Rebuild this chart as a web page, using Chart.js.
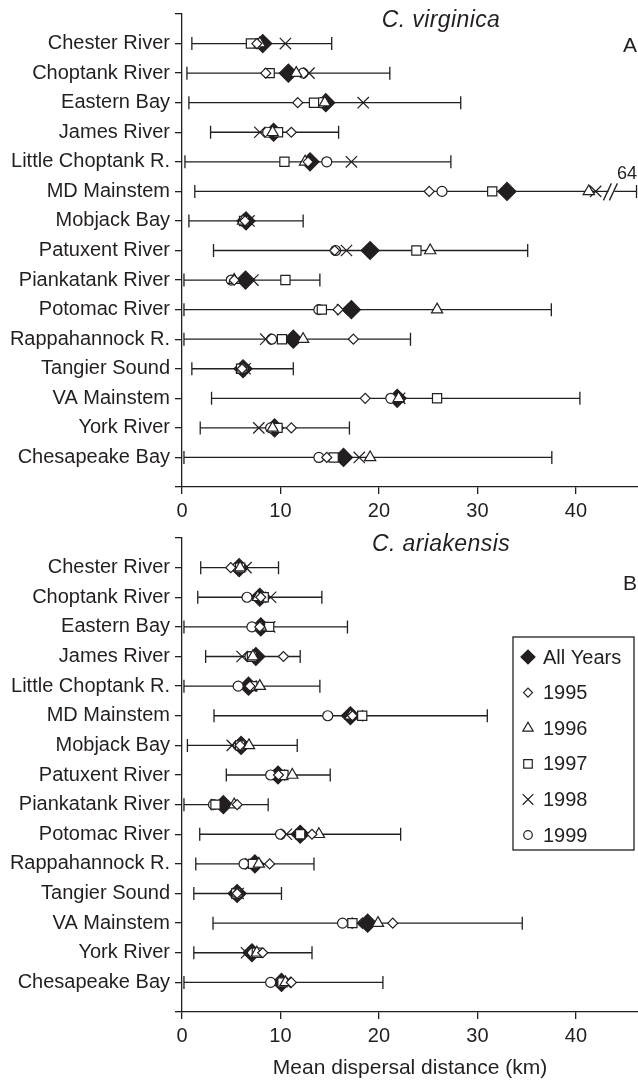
<!DOCTYPE html>
<html>
<head>
<meta charset="utf-8">
<script src="https://cdn.jsdelivr.net/npm/chart.js@4.4.1/dist/chart.umd.min.js"></script>
<style>
  html, body { margin: 0; padding: 0; background: #fff; }
  #wrap { position: relative; width: 638px; height: 1086px; }
  canvas { position: absolute; left: 0; }
</style>
</head>
<body>
<div id="wrap">
  <canvas id="chartA" width="638" height="530" style="top:0px"></canvas>
  <canvas id="chartB" width="638" height="556" style="top:530px"></canvas>
</div>
<script>
const sites = ['Chester River', 'Choptank River', 'Eastern Bay', 'James River', 'Little Choptank R.',
  'MD Mainstem', 'Mobjack Bay', 'Patuxent River', 'Piankatank River', 'Potomac River',
  'Rappahannock R.', 'Tangier Sound', 'VA Mainstem', 'York River', 'Chesapeake Bay'];
const xTicks = [0, 10, 20, 30, 40];
const seriesNames = ['All Years', '1995', '1996', '1997', '1998', '1999'];

// C. virginica (panel A)
const virAll  = [8.2, 10.8, 14.6, 9.3, 13.0, 33.0, 6.5, 19.1, 6.45, 17.2, 11.3, 6.2, 21.85, 9.4, 16.4];
const vir1995 = [7.6, 8.5, 11.75, 11.1, 12.8, 25.1, 6.4, 15.5, 5.3, 15.85, 17.4, 6.1, 18.6, 11.1, 14.7];
const vir1996 = [7.9, 11.6, 14.5, 9.2, 12.5, 41.3, 6.2, 25.2, 5.3, 25.9, 12.3, 6.1, 22.0, 9.2, 19.1];
const vir1997 = [7.0, 8.9, 13.4, 9.75, 10.4, 31.5, 6.3, 23.8, 10.5, 14.2, 10.15, 6.0, 25.9, 9.7, 15.4];
const vir1998 = [10.5, 12.9, 18.4, 7.9, 17.2, 42.0, 6.8, 16.7, 7.2, 16.3, 8.5, 6.4, 22.1, 7.8, 18.0];
const vir1999 = [7.7, 12.3, 14.1, 8.7, 14.7, 26.4, 6.3, 15.6, 5.0, 13.9, 9.1, 6.2, 21.2, 9.0, 13.9];
const virLow  = [1.0, 0.5, 0.7, 2.9, 0.3, 1.3, 0.7, 3.2, 0.2, 0.2, 0.2, 1.0, 3.0, 1.85, 0.2];
const virHigh = [15.2, 21.1, 28.3, 15.9, 27.3, 64, 12.3, 35.1, 14.0, 37.5, 23.2, 11.3, 40.4, 17.0, 37.55];

// C. ariakensis (panel B)
const ariAll  = [5.8, 7.9, 8.0, 7.5, 6.75, 17.1, 6.0, 9.75, 4.2, 12.0, 7.4, 5.6, 18.85, 7.1, 10.1];
const ari1995 = [4.95, 8.0, 7.9, 10.3, 6.9, 17.3, 5.9, 9.8, 5.6, 13.2, 8.9, 5.6, 21.4, 8.2, 11.1];
const ari1996 = [5.9, 7.7, 8.0, 7.2, 7.9, 17.1, 6.8, 11.2, 5.3, 13.9, 7.8, 5.6, 19.9, 7.6, 10.5];
const ari1997 = [5.9, 8.3, 8.85, 7.1, 7.15, 18.3, 5.9, 10.3, 3.4, 12.0, 7.2, 5.5, 17.3, 7.6, 10.2];
const ari1998 = [6.5, 9.0, 8.9, 6.1, 7.0, 17.8, 5.1, 9.9, 3.5, 10.6, 7.0, 5.7, 17.8, 6.55, 10.5];
const ari1999 = [5.6, 6.6, 7.1, 6.9, 5.7, 14.8, 5.7, 9.0, 3.2, 10.0, 6.3, 5.6, 16.3, 7.15, 9.0];
const ariLow  = [1.9, 1.6, 0.2, 2.4, 0.2, 3.25, 0.55, 4.5, 0.2, 1.8, 1.4, 1.2, 3.15, 1.2, 0.2];
const ariHigh = [9.8, 14.2, 16.8, 12.0, 14.0, 31.0, 11.7, 15.05, 8.75, 22.2, 13.4, 10.1, 34.55, 13.2, 20.4];

const ink = '#231f20';
const fontFamily = '"Liberation Sans", Arial, Helvetica, sans-serif';
Chart.defaults.font.family = fontFamily;
Chart.defaults.font.size = 20;
Chart.defaults.color = ink;

// marker look for each series, same order as seriesNames
const markers = [
  { pointStyle: 'rectRot', radius: 9, bg: ink, legendRadius: 7 },
  { pointStyle: 'rectRot', radius: 5, bg: '#fff', legendRadius: 4.5 },
  { pointStyle: 'triangle', radius: 6.5, bg: '#fff', legendRadius: 6 },
  { pointStyle: 'rect', radius: 6.5, bg: '#fff', legendRadius: 6 },
  { pointStyle: 'crossRot', radius: 8, bg: '#fff', legendRadius: 7.5 },
  { pointStyle: 'circle', radius: 5, bg: '#fff', legendRadius: 4.3 }
];

// whiskers drawn under the markers
const errorBars = {
  id: 'errorBars',
  beforeDatasetsDraw(chart, args, o) {
    const { ctx, scales: { x, y } } = chart;
    ctx.save();
    ctx.strokeStyle = ink;
    ctx.lineWidth = 1.3;
    o.low.forEach((lo, i) => {
      const cut = o.high[i] > x.max;
      const hi = cut ? x.max - 0.15 : o.high[i];
      const py = y.getPixelForValue(i + 1);
      const x0 = x.getPixelForValue(lo), x1 = x.getPixelForValue(hi);
      ctx.beginPath();
      ctx.moveTo(x0, py); ctx.lineTo(x1, py);
      ctx.moveTo(x0, py - 6.5); ctx.lineTo(x0, py + 6.5);
      ctx.moveTo(x1, py - 6.5); ctx.lineTo(x1, py + 6.5);
      ctx.stroke();
      if (cut) {
        // axis break and the real value
        const bx = x.getPixelForValue(o.breakAt);
        ctx.fillStyle = '#fff';
        ctx.fillRect(bx - 3, py - 2, 6, 4);
        ctx.beginPath();
        ctx.moveTo(bx - 8, py + 9); ctx.lineTo(bx, py - 8);
        ctx.moveTo(bx - 2, py + 9); ctx.lineTo(bx + 6, py - 8);
        ctx.stroke();
        ctx.fillStyle = ink;
        ctx.font = '18px ' + fontFamily;
        ctx.textAlign = 'right';
        ctx.textBaseline = 'alphabetic';
        ctx.fillText(String(o.high[i]), x.right - 1, py - 12);
      }
    });
    ctx.restore();
  }
};

const panelText = {
  id: 'panelText',
  afterDraw(chart, args, o) {
    const { ctx, chartArea: a } = chart;
    ctx.save();
    ctx.fillStyle = ink;
    ctx.textBaseline = 'alphabetic';
    ctx.font = 'italic 23px ' + fontFamily;
    ctx.letterSpacing = '0.4px';
    ctx.textAlign = 'center';
    ctx.fillText(o.species, 441, a.top + 13);
    ctx.letterSpacing = '0px';
    ctx.font = '21px ' + fontFamily;
    ctx.textAlign = 'right';
    ctx.fillText(o.letter, a.right - 1, a.top + o.letterY);

    if (o.legend) {
      const bx = 513, by = a.top + 99, bw = 121, bh = 213;
      ctx.strokeStyle = ink;
      ctx.lineWidth = 1.3;
      ctx.strokeRect(bx, by, bw, bh);
      ctx.font = '20px ' + fontFamily;
      ctx.textAlign = 'left';
      ctx.textBaseline = 'middle';
      seriesNames.forEach((name, k) => {
        const m = markers[k];
        const cy = by + 20 + k * 35.6;
        ctx.fillStyle = m.bg;
        ctx.strokeStyle = ink;
        ctx.lineWidth = 1.2;
        Chart.helpers.drawPoint(ctx, { pointStyle: m.pointStyle, radius: m.legendRadius, rotation: 0, borderWidth: 1.2 }, bx + 15, cy);
        ctx.fillStyle = ink;
        ctx.fillText(name, bx + 30, cy + 1);
      });
    }
    ctx.restore();
  }
};

function makeChart(id, series, low, high, cfg) {
  const datasets = series.map((vals, k) => ({
    label: seriesNames[k],
    data: vals.map((v, i) => ({ x: v, y: i + 1 })),
    pointStyle: markers[k].pointStyle,
    pointRadius: markers[k].radius,
    pointBackgroundColor: markers[k].bg,
    pointBorderColor: ink,
    pointBorderWidth: 1.2,
    showLine: false,
    order: k === 0 ? 10 : 0
  }));

  return new Chart(document.getElementById(id), {
    type: 'scatter',
    data: { datasets },
    plugins: [errorBars, panelText],
    options: {
      responsive: false,
      animation: false,
      layout: { autoPadding: false, padding: { top: cfg.top, left: 0, right: 0, bottom: 0 } },
      plugins: {
        legend: { display: false },
        tooltip: { enabled: false },
        errorBars: { low, high, breakAt: 43.6 },
        panelText: { species: cfg.species, letter: cfg.letter, letterY: cfg.letterY, legend: cfg.legend }
      },
      scales: {
        x: {
          type: 'linear', min: 0, max: 46.3,
          afterBuildTicks: s => { s.ticks = xTicks.map(v => ({ value: v })); },
          ticks: { padding: 5, color: ink, font: { size: 20 } },
          grid: { drawOnChartArea: false, tickLength: 7, color: ink, lineWidth: 1.3 },
          border: { color: ink, width: 1.3 },
          title: {
            display: !!cfg.xTitle, text: cfg.xTitle || '', color: ink,
            font: { size: 21 }, padding: { top: 0, bottom: 5 }
          },
          afterFit: s => { s.height = cfg.xHeight; s.paddingLeft = 0; s.paddingRight = 0; }
        },
        y: {
          type: 'linear', reverse: true, min: 0, max: sites.length + 1,
          afterBuildTicks: s => { s.ticks = Array.from({ length: sites.length + 2 }, (_, i) => ({ value: i })); },
          ticks: { autoSkip: false, padding: 5, color: ink, font: { size: 20 },
            callback: v => sites[v - 1] || '' },
          grid: { drawOnChartArea: false, tickLength: 7, color: ink, lineWidth: 1.3 },
          border: { color: ink, width: 1.3 },
          afterFit: s => { s.width = 182; s.paddingTop = 0; s.paddingBottom = 0; }
        }
      }
    }
  });
}

makeChart('chartA', [virAll, vir1995, vir1996, vir1997, vir1998, vir1999], virLow, virHigh,
  { top: 14, xHeight: 43, species: 'C. virginica', letter: 'A', letterY: 38, legend: false });
makeChart('chartB', [ariAll, ari1995, ari1996, ari1997, ari1998, ari1999], ariLow, ariHigh,
  { top: 8, xHeight: 74, species: 'C. ariakensis', letter: 'B', letterY: 52, legend: true,
    xTitle: 'Mean dispersal distance (km)' });
</script>
</body>
</html>
